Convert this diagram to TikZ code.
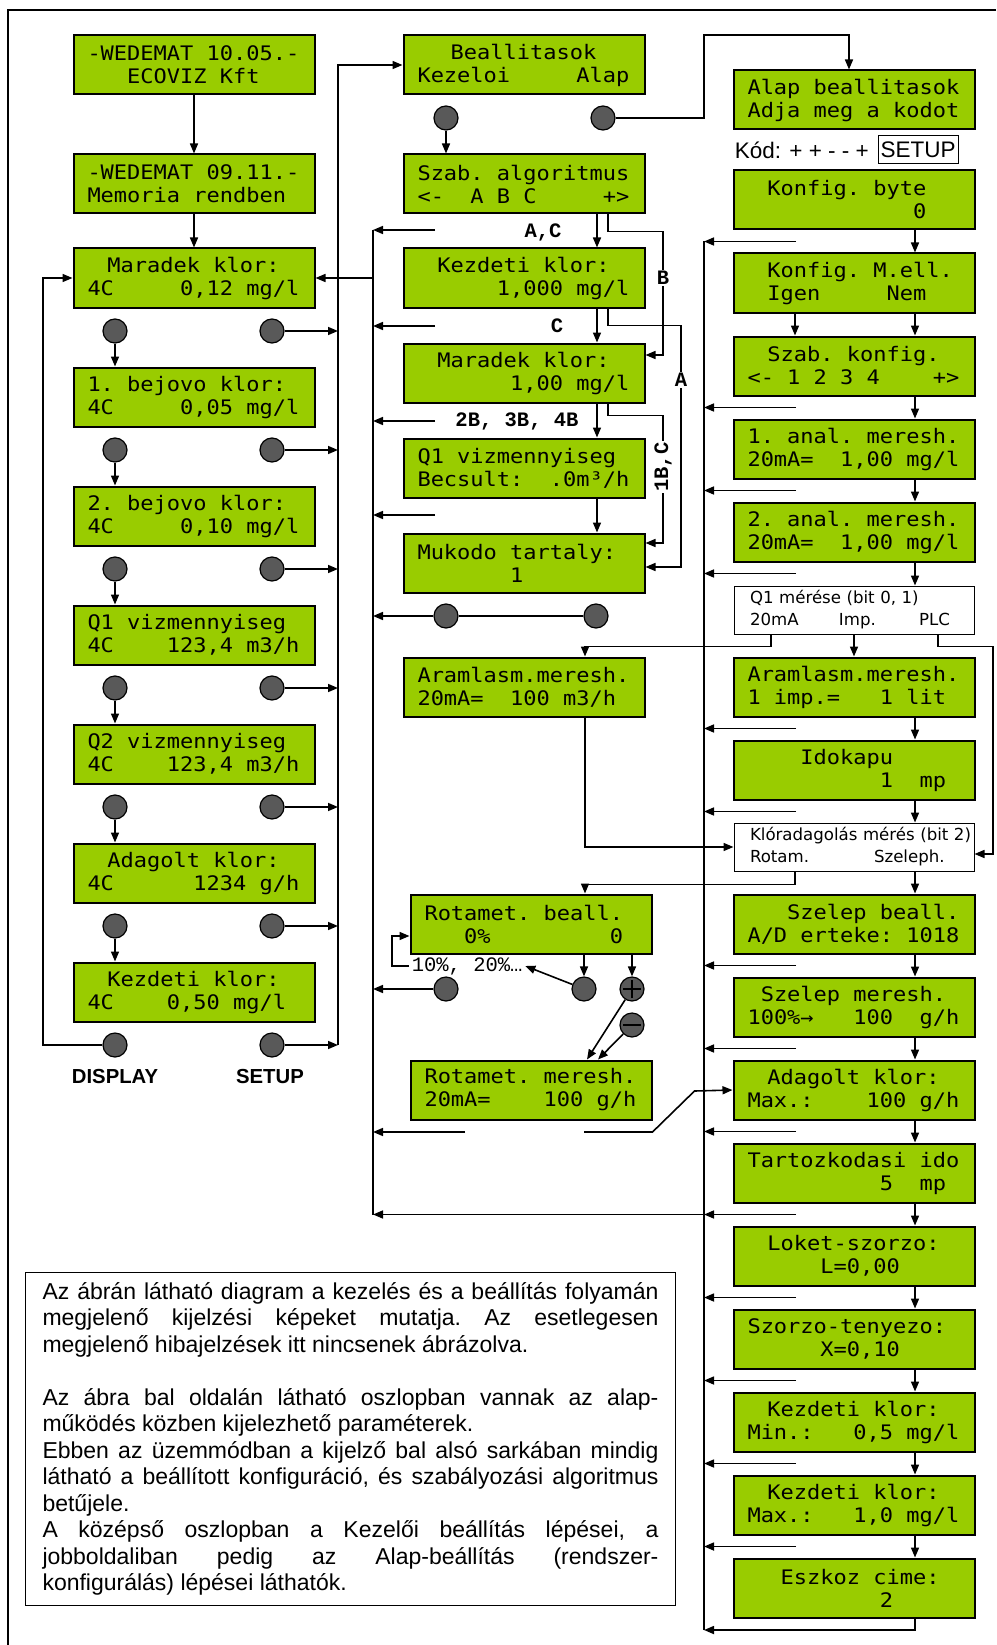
\documentclass[tikz,border=0pt]{standalone}
\usepackage{fontspec}
\setmainfont{Liberation Sans}
\newfontfamily\lcdfam{DejaVu Sans Mono}[FakeStretch=1.1]
\newfontfamily\verdfam{DejaVu Sans}
\newfontfamily\monofam{Liberation Mono}
\usetikzlibrary{arrows.meta,calc}
\definecolor{lcdgreen}{RGB}{153,204,0}
\definecolor{btngray}{RGB}{89,89,89}
\newcommand{\lcdrow}[1]{\mbox{\def~{\hphantom{0}}#1}}
\newcommand{\hc}{\hspace{6.6pt}}

\begin{document}
\begin{tikzpicture}
[x=1pt,y=-1pt,>={Triangle[length=10pt,width=8pt]},line width=1.6pt,
lcd/.style={draw,line width=2pt,fill=lcdgreen,minimum width=241pt,minimum height=59pt,inner xsep=14pt,inner ysep=0pt,text width=213pt,align=left,font=\lcdfam\fontsize{20}{23}\selectfont},
btn/.style={draw,circle,fill=btngray,line width=1.2pt,minimum size=24pt,inner sep=0pt},
wbox/.style={draw,line width=1pt,fill=white,minimum width=240pt,minimum height=48pt,inner xsep=16pt,inner ysep=0pt,text width=208pt,align=left,font=\verdfam\fontsize{16.6}{22}\selectfont},
brlabel/.style={inner sep=1pt,font=\monofam\bfseries\fontsize{20.5}{20.5}\selectfont},
brcut/.style={brlabel,fill=white},
keylabel/.style={font=\bfseries\fontsize{20.3}{20.3}\selectfont},
]
\useasboundingbox (0,0) rectangle (996,1645);

%Frame
\draw[line width=1.5pt] (996,10) -- (8,10) -- (8,1645);

%Left column: displays
\node (w1) at (194,65)[lcd] {\lcdrow{-WEDEMAT~10.05.-}\\\lcdrow{~~~ECOVIZ~Kft}};
\node (w2) at (194,184)[lcd] {\lcdrow{-WEDEMAT~09.11.-}\\\lcdrow{Memoria~rendben}};
\node (mar) at (194,278)[lcd] {\lcdrow{~\hc Maradek~klor:}\\\lcdrow{4C~~~~~0,12~mg/l}};
\node (bej1) at (194,397)[lcd] {\lcdrow{1.~bejovo~klor:}\\\lcdrow{4C~~~~~0,05~mg/l}};
\node (bej2) at (194,516)[lcd] {\lcdrow{2.~bejovo~klor:}\\\lcdrow{4C~~~~~0,10~mg/l}};
\node (viz1) at (194,635)[lcd] {\lcdrow{Q1~vizmennyiseg}\\\lcdrow{4C~~~~123,4~m3/h}};
\node (viz2) at (194,754)[lcd] {\lcdrow{Q2~vizmennyiseg}\\\lcdrow{4C~~~~123,4~m3/h}};
\node (adag) at (194,873)[lcd] {\lcdrow{~\hc Adagolt~klor:}\\\lcdrow{4C~~~~~~1234~g/h}};
\node (kezd) at (194,992)[lcd] {\lcdrow{~\hc Kezdeti~klor:}\\\lcdrow{4C~~~~0,50~mg/l}};

%Left column: buttons
\node (dl1) at (115,331)[btn] {};
\node (dr1) at (272,331)[btn] {};
\node (dl2) at (115,450)[btn] {};
\node (dr2) at (272,450)[btn] {};
\node (dl3) at (115,569)[btn] {};
\node (dr3) at (272,569)[btn] {};
\node (dl4) at (115,688)[btn] {};
\node (dr4) at (272,688)[btn] {};
\node (dl5) at (115,807)[btn] {};
\node (dr5) at (272,807)[btn] {};
\node (dl6) at (115,926)[btn] {};
\node (dr6) at (272,926)[btn] {};
\node (dl7) at (115,1045)[btn] {};
\node (dr7) at (272,1045)[btn] {};
\node (disp) at (115,1076)[keylabel] {DISPLAY};
\node (setup) at (270,1076)[keylabel] {SETUP};

%Middle column: Kezeloi beallitasok
\node (beal) at (524,65)[lcd] {\lcdrow{~~\hc Beallitasok}\\\lcdrow{Kezeloi~~~~~Alap}};
\node (bm1) at (446,118)[btn] {};
\node (bm2) at (603,118)[btn] {};
\node (algo) at (524,184)[lcd] {\lcdrow{Szab.~algoritmus}\\\lcdrow{<-~~A~B~C~~~~~+>}};
\node (kzm) at (524,278)[lcd] {\lcdrow{~\hc Kezdeti~klor:}\\\lcdrow{~~~~~~1,000~mg/l}};
\node (mrm) at (524,373)[lcd] {\lcdrow{~\hc Maradek~klor:}\\\lcdrow{~~~~~~~1,00~mg/l}};
\node (q1m) at (524,468)[lcd] {\lcdrow{Q1~vizmennyiseg}\\\lcdrow{Becsult:~~.0m³/h}};
\node (muk) at (524,563)[lcd] {\lcdrow{Mukodo~tartaly:}\\\lcdrow{~~~~~~~1}};
\node (bm3) at (446,616)[btn] {};
\node (bm4) at (596,616)[btn] {};
\node (aram) at (524,687)[lcd] {\lcdrow{Aramlasm.meresh.}\\\lcdrow{20mA=~~100~m3/h}};
\node (rotb) at (531,924)[lcd] {\lcdrow{Rotamet.~beall.}\\\lcdrow{~~~0\%~~~~~~~~~0}};
\node (bm5) at (446,989)[btn] {};
\node (bm6) at (584,989)[btn] {};
\node (plus) at (632,989)[btn] {};
\node (minus) at (632,1025)[btn] {};
\node (rotm) at (531,1090)[lcd] {\lcdrow{Rotamet.~meresh.}\\\lcdrow{20mA=~~~~100~g/h}};
\node (pct) at (409,966)[anchor=west,inner sep=2pt,font=\monofam\fontsize{20.5}{20.5}\selectfont] {10\%, 20\%…};

%Right column: Alap beallitasok
\node (alap) at (854,100)[lcd] {\lcdrow{Alap~beallitasok}\\\lcdrow{Adja~meg~a~kodot}};
\node (kod) at (734,150)[anchor=west,inner sep=0pt,font=\fontsize{22.5}{22.5}\selectfont] {Kód: + + - - +};
\node (kodset) at (918,150)[draw,line width=1pt,minimum width=80pt,minimum height=28pt,inner sep=0pt,font=\fontsize{22.5}{22.5}\selectfont] {SETUP};
\node (kb) at (854,200)[lcd] {\lcdrow{~\hc Konfig.~byte}\\\lcdrow{~~~~~~~~~~~~\hc 0}};
\node (mell) at (854,283)[lcd] {\lcdrow{~\hc Konfig.~M.ell.}\\\lcdrow{~\hc Igen~~~~~Nem}};
\node (szk) at (854,366)[lcd] {\lcdrow{~\hc Szab.~konfig.}\\\lcdrow{<-~1~2~3~4~~~~+>}};
\node (an1) at (854,449)[lcd] {\lcdrow{1.~anal.~meresh.}\\\lcdrow{20mA=~~1,00~mg/l}};
\node (an2) at (854,532)[lcd] {\lcdrow{2.~anal.~meresh.}\\\lcdrow{20mA=~~1,00~mg/l}};
\node (q1w) at (854,610)[wbox] {\mbox{Q1 mérése (bit 0, 1)}\\\mbox{\makebox[89pt][l]{20mA}\makebox[80pt][l]{Imp.}PLC}};
\node (arr) at (854,687)[lcd] {\lcdrow{Aramlasm.meresh.}\\\lcdrow{1~imp.=~~~1~lit}};
\node (ido) at (854,770)[lcd] {\lcdrow{~~~~Idokapu}\\\lcdrow{~~~~~~~~~~1~~mp}};
\node (klw) at (854,847)[wbox] {\mbox{Klóradagolás mérés (bit 2)}\\\mbox{\makebox[124pt][l]{Rotam.}Szeleph.}};
\node (szb) at (854,924)[lcd] {\lcdrow{~~~Szelep~beall.}\\\lcdrow{A/D~erteke:~1018}};
\node (szm) at (854,1007)[lcd] {\lcdrow{~Szelep~meresh.}\\\lcdrow{100\%→~~~100~~g/h}};
\node (adm) at (854,1090)[lcd] {\lcdrow{~\hc Adagolt~klor:}\\\lcdrow{Max.:~~~~100~g/h}};
\node (tart) at (854,1173)[lcd] {\lcdrow{Tartozkodasi~ido}\\\lcdrow{~~~~~~~~~~5~~mp}};
\node (lok) at (854,1256)[lcd] {\lcdrow{~\hc Loket-szorzo:}\\\lcdrow{~~~~~\hc L=0,00}};
\node (szt) at (854,1339)[lcd] {\lcdrow{Szorzo-tenyezo:}\\\lcdrow{~~~~~\hc X=0,10}};
\node (kmin) at (854,1422)[lcd] {\lcdrow{~\hc Kezdeti~klor:}\\\lcdrow{Min.:~~~0,5~mg/l}};
\node (kmax) at (854,1505)[lcd] {\lcdrow{~\hc Kezdeti~klor:}\\\lcdrow{Max.:~~~1,0~mg/l}};
\node (esz) at (854,1588)[lcd] {\lcdrow{~~\hc Eszkoz~cime:}\\\lcdrow{~~~~~~~~~~2}};

%Bus lines and free ends
\coordinate (retL) at (43,1045);
\coordinate (busL) at (338,1045);
\coordinate (busM) at (373,1215);
\coordinate (busR) at (704,1630);
\coordinate (topR) at (704,35);
\coordinate (brB) at (663,355);
\coordinate (brA) at (681,567);
\coordinate (brBC) at (663,543);
\coordinate (plcR) at (993,854);
\coordinate (m1) at (435,230);
\coordinate (m2) at (435,326);
\coordinate (m3) at (435,421);
\coordinate (m4) at (435,515);
\coordinate (m5) at (465,1132);
\coordinate (m6) at (584,1132);
\coordinate (r1) at (796,241.5);
\coordinate (r2) at (796,407.5);
\coordinate (r3) at (796,490.5);
\coordinate (r4) at (796,573.5);
\coordinate (r5) at (796,728.5);
\coordinate (r6) at (796,811.5);
\coordinate (r7) at (796,965.5);
\coordinate (r8) at (796,1048.5);
\coordinate (r9) at (796,1131.5);
\coordinate (r10) at (796,1214.5);
\coordinate (r11) at (796,1297.5);
\coordinate (r12) at (796,1380.5);
\coordinate (r13) at (796,1463.5);
\coordinate (r14) at (796,1546.5);

%Left column connectors
\draw[->] (w1) -- (w2);
\draw[->] (w2) -- (mar);
\draw[->] (dl1) -- (dl1 |- bej1.north);
\draw[->] (dl2) -- (dl2 |- bej2.north);
\draw[->] (dl3) -- (dl3 |- viz1.north);
\draw[->] (dl4) -- (dl4 |- viz2.north);
\draw[->] (dl5) -- (dl5 |- adag.north);
\draw[->] (dl6) -- (dl6 |- kezd.north);
\draw[->] (dl7) -- (retL) |- (mar.west);
\draw[->] (dr1) -- (dr1 -| busL);
\draw[->] (dr2) -- (dr2 -| busL);
\draw[->] (dr3) -- (dr3 -| busL);
\draw[->] (dr4) -- (dr4 -| busL);
\draw[->] (dr5) -- (dr5 -| busL);
\draw[->] (dr6) -- (dr6 -| busL);
\draw[->] (dr7) -- (busL);
\draw[->] (busL) |- (beal.west);
\draw[->] (mar.east -| busM) -- (mar.east);

%Middle column connectors
\draw (m1 -| busM) -- (busM);
\draw[->] (m1) -- (m1 -| busM);
\draw[->] (m2) -- (m2 -| busM);
\draw[->] (m3) -- (m3 -| busM);
\draw[->] (m4) -- (m4 -| busM);
\draw[->] (m5) -- (m5 -| busM);
\draw[->] (bm1) -- (bm1 |- algo.north);
\draw[->] (bm2) -| (topR) -| ([xshift=-5pt]alap.north);
\draw[->] ([xshift=73pt]algo.south) -- ([xshift=73pt]kzm.north);
\draw[->] ([xshift=73pt]kzm.south) -- ([xshift=73pt]mrm.north);
\draw[->] ([xshift=73pt]mrm.south) -- ([xshift=73pt]q1m.north);
\draw[->] ([xshift=73pt]q1m.south) -- ([xshift=73pt]muk.north);
\draw[->] ([xshift=84pt]algo.south) -- ++(0,17) -| (brB) -- (brB -| mrm.east);
\draw[->] ([xshift=84pt]kzm.south) -- ++(0,17) -| (brA) -- (brA -| muk.east);
\draw[->] ([xshift=84pt]mrm.south) -- ++(0,12) -| (brBC) -- (brBC -| muk.east);
\node (lac) at (543,232)[brlabel] {A,C};
\node (lc) at (557,326)[brlabel] {C};
\node (l2b) at (517,421)[brlabel] {2B, 3B, 4B};
\node (lb) at (663,278)[brcut] {B};
\node (la) at (681,380)[brcut] {A};
\node (l1bc) at (663,467)[brcut,rotate=90] {1B,C};
\draw (bm4) -- (bm3);
\draw[->] (bm3) -- (bm3 -| busM);
\draw[->] ([xshift=-83pt]q1w.south) -- ++(0,12) -| ([xshift=61pt]aram.north);
\draw[->] ([xshift=61pt]aram.south) |- (klw.west);
\draw[->] ([xshift=-59pt]klw.south) -- ++(0,13) -| ([xshift=54pt]rotb.north);
\draw[->] (pct.west) -- ++(-17,0) |- ([yshift=-12pt]rotb.west);
\draw[->] (bm6) -- (pct.east);
\draw[->] ([xshift=53pt]rotb.south) -- (bm6);
\draw[->] ([xshift=101pt]rotb.south) -- (plus);
\draw[->] (bm5) -- (bm5 -| busM);
\draw[line width=1.2pt] ([xshift=-9pt]plus.center) -- ([xshift=9pt]plus.center);
\draw[line width=1.2pt] ([yshift=-9pt]plus.center) -- ([yshift=9pt]plus.center);
\draw[line width=1.2pt] ([xshift=-9pt]minus.center) -- ([xshift=9pt]minus.center);
\draw[->] (plus) -- ([xshift=56pt]rotm.north);
\draw[->] (minus) -- ([xshift=67pt]rotm.north);
\draw[->] (m6) -- (m6 -| rotm.east) -- ++(42,-41) -- (adm.west);

%Right column connectors
\draw[->] (q1w.south) -- (arr.north);
\draw[->] ([xshift=84pt]q1w.south) -- ++(0,12) -| (plcR) -- (plcR -| klw.east);
\draw[->] ([xshift=61pt]kb.south) -- ([xshift=61pt]mell.north);
\draw[->] ([xshift=-59pt]mell.south) -- ([xshift=-59pt]szk.north);
\draw[->] ([xshift=61pt]mell.south) -- ([xshift=61pt]szk.north);
\draw[->] ([xshift=61pt]szk.south) -- ([xshift=61pt]an1.north);
\draw[->] ([xshift=61pt]an1.south) -- ([xshift=61pt]an2.north);
\draw[->] ([xshift=61pt]an2.south) -- ([xshift=61pt]q1w.north);
\draw[->] ([xshift=61pt]arr.south) -- ([xshift=61pt]ido.north);
\draw[->] ([xshift=61pt]ido.south) -- ([xshift=61pt]klw.north);
\draw[->] ([xshift=61pt]klw.south) -- ([xshift=61pt]szb.north);
\draw[->] ([xshift=61pt]szb.south) -- ([xshift=61pt]szm.north);
\draw[->] ([xshift=61pt]szm.south) -- ([xshift=61pt]adm.north);
\draw[->] ([xshift=61pt]adm.south) -- ([xshift=61pt]tart.north);
\draw[->] ([xshift=61pt]tart.south) -- ([xshift=61pt]lok.north);
\draw[->] ([xshift=61pt]lok.south) -- ([xshift=61pt]szt.north);
\draw[->] ([xshift=61pt]szt.south) -- ([xshift=61pt]kmin.north);
\draw[->] ([xshift=61pt]kmin.south) -- ([xshift=61pt]kmax.north);
\draw[->] ([xshift=61pt]kmax.south) -- ([xshift=61pt]esz.north);
\draw[->] ([xshift=61pt]esz.south) |- (busR);
\draw (busR) -- (busR |- r1);
\draw[->] (r1) -- (r1 -| busR);
\draw[->] (r2) -- (r2 -| busR);
\draw[->] (r3) -- (r3 -| busR);
\draw[->] (r4) -- (r4 -| busR);
\draw[->] (r5) -- (r5 -| busR);
\draw[->] (r6) -- (r6 -| busR);
\draw[->] (r7) -- (r7 -| busR);
\draw[->] (r8) -- (r8 -| busR);
\draw[->] (r9) -- (r9 -| busR);
\draw[->] (r10) -- (r10 -| busR);
\draw[->] (r10 -| busR) -- (r10 -| busM);
\draw[->] (r11) -- (r11 -| busR);
\draw[->] (r12) -- (r12 -| busR);
\draw[->] (r13) -- (r13 -| busR);
\draw[->] (r14) -- (r14 -| busR);

%Note
\node (note) at (25,1272)[anchor=north west,draw,line width=1pt,inner xsep=17pt,inner ysep=10pt,align=left,font=\fontsize{23}{26.5}\selectfont\frenchspacing]
{\makebox[616pt][s]{Az ábrán látható diagram a kezelés és a beállítás folyamán}\\
\makebox[616pt][s]{megjelenő kijelzési képeket mutatja. Az esetlegesen}\\
megjelenő hibajelzések itt nincsenek ábrázolva.\\
\mbox{}\\
\makebox[616pt][s]{Az ábra bal oldalán látható oszlopban vannak az alap-}\\
működés közben kijelezhető paraméterek.\\
\makebox[616pt][s]{Ebben az üzemmódban a kijelző bal alsó sarkában mindig}\\
\makebox[616pt][s]{látható a beállított konfiguráció, és szabályozási algoritmus}\\
betűjele.\\
\makebox[616pt][s]{A középső oszlopban a Kezelői beállítás lépései, a}\\
\makebox[616pt][s]{jobboldaliban pedig az Alap-beállítás (rendszer-}\\
konfigurálás) lépései láthatók.};

\end{tikzpicture}
\end{document}
